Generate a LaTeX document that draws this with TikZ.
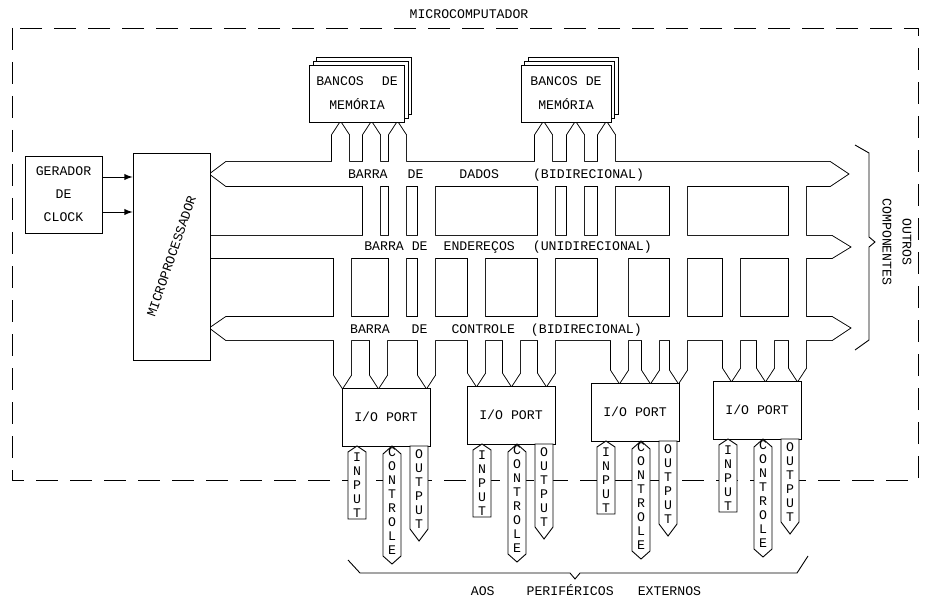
\documentclass[tikz,border=0pt]{standalone}
\usepackage{fontspec}
\setmainfont{Liberation Mono}
\usetikzlibrary{shadows}

% channel pointing up into a memory bank / down into a port
\newcommand{\upchan}[3]{(#1,#3) -- (#1,#2+13) -- (#1+8.5,#2) -- (#1+17,#2+13) -- (#1+17,#3) -- cycle}
\newcommand{\dnchan}[3]{(#1,#2) -- (#1,#3-13) -- (#1+8.5,#3) -- (#1+17,#3-13) -- (#1+17,#2) -- cycle}
% buses and channels, drawn twice: outline, then white inside
\newcommand{\busnet}[1]{%
  \path[#1] (210,174) -- (226,162) -- (830,162) -- (848,174) -- (830,186) -- (226,186) -- cycle;
  \path[#1] (209,236) -- (832,236) -- (850,247) -- (832,258) -- (209,258) -- cycle;
  \path[#1] (210,328) -- (226,317) -- (832,317) -- (850,328) -- (832,340) -- (226,340) -- cycle;
  \foreach \cx/\cy in {332/165,363/239,389/320,535/165,567/239,598/320}
    {\path[#1] \upchan{\cx}{122}{\cy};}
  \foreach \cx/\cy/\ty in {334/255/388,370/337/388,418/183/388,
                           468/255/386,503/337/386,538/183/386,
                           611/255/383,642/337/383,670/183/383,
                           723/255/381,757/337/381,789/183/381}
    {\path[#1] \dnchan{\cx}{\cy}{\ty};}
}

\begin{document}
\begin{tikzpicture}[x=.5pt,y=-.5pt,line width=.45pt,
  every node/.style={font=\fontsize{6.6}{12}\selectfont},
  box/.style={draw,fill=white,align=center},
  membox/.style={box,minimum width=45pt,minimum height=28.5pt,
    double copy shadow={shadow xshift=1.8pt,shadow yshift=1.8pt,draw=black,line width=.45pt,fill=white}},
  iobox/.style={box,minimum width=44pt,minimum height=29pt},
  tagbox/.style={draw,fill=white},
  tagtxt/.style={inner sep=0pt,align=center,font=\fontsize{6.6}{7}\selectfont}]
\useasboundingbox (0,0) rectangle (929,598);
\draw[dash pattern=on 11pt off 6pt] (12,28) rectangle (918,480);
\node (title) at (469,14) {MICROCOMPUTADOR};

\busnet{draw,line width=.9pt}
\busnet{fill=white}

\node[box,minimum width=38.5pt,minimum height=103.5pt,inner sep=0pt] (micro) at (171.5,256.5) {\rotatebox{71}{MICROPROCESSADOR}};
\node[box,minimum width=38.5pt,minimum height=38.5pt,font=\fontsize{6.6}{11.5}\selectfont] (clock) at (63.5,194.5) {GERADOR\\DE\\CLOCK};
\coordinate (clk1) at ([yshift=8.75pt]clock.east);
\coordinate (clk2) at ([yshift=-8.75pt]clock.east);
\draw[-latex] (clk1) -- (clk1 -| micro.west);
\draw[-latex] (clk2) -- (clk2 -| micro.west);

\node[membox] (mem1) at (357,93.5) {BANCOS\hspace{9pt}DE\\MEMÓRIA};
\node[membox] (mem2) at (566,93.5) {BANCOS DE\\MEMÓRIA};

\node (dlbl) at (496,175) {BARRA\hspace{10pt}DE\hspace{18pt}DADOS\hspace{17pt}(BIDIRECIONAL)};
\node (albl) at (508,247) {BARRA DE\hspace{8pt}ENDEREÇOS\hspace{9pt}(UNIDIRECIONAL)};
\node (clbl) at (496,330) {BARRA\hspace{11pt}DE\hspace{12pt}CONTROLE\hspace{8pt}(BIDIRECIONAL)};

\foreach \n/\px/\py in {1/342/388,2/467/386,3/591/383,4/713/381}{
  \node[iobox] (io\n) at (\px+44,\py+29) {I/O PORT};
  \path[tagbox] (\px+6,\py+64) -- (\px+15,\py+58) -- (\px+24,\py+64) -- (\px+24,\py+131) -- (\px+6,\py+131) -- cycle;
  \path[tagbox] (\px+41,\py+66) -- (\px+50,\py+58) -- (\px+59,\py+66) -- (\px+59,\py+168) -- (\px+50,\py+176) -- (\px+41,\py+168) -- cycle;
  \path[tagbox] (\px+68,\py+58) -- (\px+86,\py+58) -- (\px+86,\py+141) -- (\px+77,\py+153) -- (\px+68,\py+141) -- cycle;
  \node[tagtxt] (in\n) at (\px+15,\py+97) {I\\N\\P\\U\\T};
  \node[tagtxt] (ct\n) at (\px+50,\py+113) {C\\O\\N\\T\\R\\O\\L\\E};
  \node[tagtxt] (out\n) at (\px+77,\py+101) {O\\U\\T\\P\\U\\T};
}

% braces
\draw (855,145) -- (869,153) -- (869,237) -- (875,242) -- (869,247) -- (869,340) -- (855,350);
\node[rotate=-90,align=center,font=\fontsize{6.6}{10}\selectfont] (outros) at (897,242) {OUTROS\\COMPONENTES};
\draw (348,560) -- (360,573) -- (570,573) -- (575,579) -- (580,573) -- (797,573) -- (808,556);
\node (perif) at (586,590) {AOS\hspace{16pt}PERIFÉRICOS\hspace{12pt}EXTERNOS};
\end{tikzpicture}
\end{document}
